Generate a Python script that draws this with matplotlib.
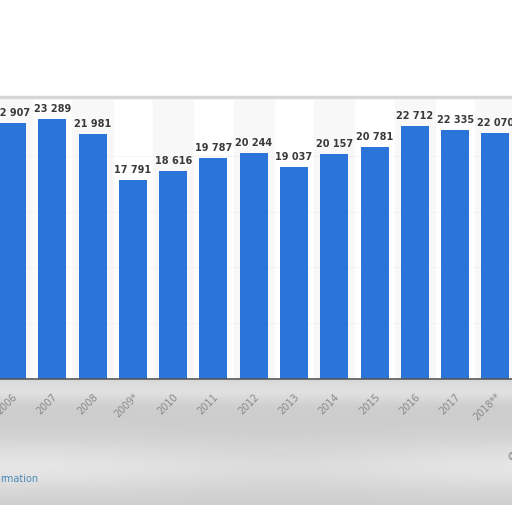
import numpy as np
import matplotlib
matplotlib.use("Agg")
import matplotlib.pyplot as plt

years = ['2006', '2007', '2008', '2009*', '2010', '2011', '2012', '2013',
         '2014', '2015', '2016', '2017', '2018**']
values = [22907, 23289, 21981, 17791, 18616, 19787, 20244, 19037,
          20157, 20781, 22712, 22335, 22070]
labels = ['22 907', '23 289', '21 981', '17 791', '18 616', '19 787', '20 244',
          '19 037', '20 157', '20 781', '22 712', '22 335', '22 070']

bar_color = '#2a74da'

fig = plt.figure(figsize=(5.12, 5.12), dpi=100)
fig.patch.set_facecolor('white')

# grey blurred area below the axis
bg = fig.add_axes([0, 0.013, 1, 0.245])
yy = np.linspace(0, 1, 60)[:, None]
xx = np.linspace(0, 1, 200)[None, :]
shade = 0.80 + 0.10 * np.exp(-((yy - 0.3) / 0.22) ** 2) * (1 - 0.4 * np.exp(-((xx - 0.55) / 0.3) ** 2)) \
    + 0.08 * np.exp(-((yy - 0.92) / 0.1) ** 2)
bg.imshow(shade, cmap='gray', vmin=0, vmax=1, aspect='auto', extent=[0, 1, 0, 1], origin='lower')
bg.set_axis_off()
fig.text(0.0, 0.065, 'rmation', color='#4a8ab8', fontsize=7, va='center')
fig.text(0.99, 0.108, '©', color='#888888', fontsize=7, va='center')

# frame line on top of the chart box
fig.add_artist(plt.Line2D([0, 1], [0.810, 0.810], color='#d6d6d6', lw=2.5))

ax = fig.add_axes([0, 0.2598, 1, 0.5449])
x = np.arange(len(years))

for i in range(0, len(years), 2):
    ax.axvspan(i - 0.5, i + 0.5, color='#f8f8f8', zorder=0)
for g in [5000, 10000, 15000, 20000]:
    ax.axhline(g, color='#e2e2e2', lw=0.6, ls=(0, (1, 2)), zorder=1)

ax.bar(x, values, width=0.695, color=bar_color, zorder=2)
for xi, v, lab in zip(x, values, labels):
    ax.text(xi, v + 450, lab, ha='center', va='bottom', fontsize=7,
            fontweight='bold', color='#3a3a3a')

ax.set_yticks([])
ax.set_xticks(x)
ax.set_xticklabels(years, rotation=45, ha='right', rotation_mode='anchor',
                   fontsize=7, color='#8a8a8a')
ax.set_xlim(-0.298, 12.41)
ax.set_ylim(0, 25000)
ax.tick_params(axis='x', length=0, pad=9)
for s in ['top', 'left', 'right']:
    ax.spines[s].set_visible(False)
ax.spines['bottom'].set_color('#555555')
ax.spines['bottom'].set_linewidth(1.2)
ax.patch.set_alpha(0)

fig.savefig('out.png', dpi=100)
